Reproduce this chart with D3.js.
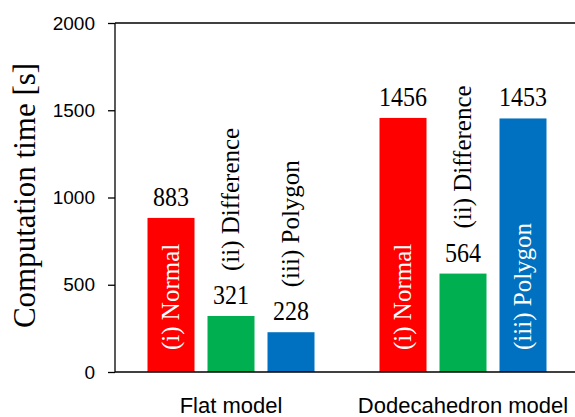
<!DOCTYPE html>
<html><head><meta charset="utf-8">
<script src="https://cdn.jsdelivr.net/npm/d3@7"></script>
<style>html,body{margin:0;padding:0;background:#fff;}svg{display:block;}</style>
</head><body>
<svg id="chart" width="575" height="417"></svg>
<script>
const groups = ["Flat model", "Dodecahedron model"];
const series = ["(i) Normal", "(ii) Difference", "(iii) Polygon"];
const normalValues = [883, 1456];
const differenceValues = [321, 564];
const polygonValues = [228, 1453];
const seriesColors = ["#FF0000", "#00B050", "#0070C0"];
const yTicks = [0, 500, 1000, 1500, 2000];
const yTitle = "Computation time [s]";

const valuesBySeries = [normalValues, differenceValues, polygonValues];
const data = [];
groups.forEach((g, gi) => series.forEach((s, si) => data.push({group: g, series: s, si, value: valuesBySeries[si][gi]})));

const svg = d3.select("#chart");
const mLeft = 115, mRight = 579, mTop = 23, mBottom = 372;

const x0 = d3.scaleBand().domain(groups).range([mLeft, mRight]).paddingInner(0).paddingOuter(0);
const bw = x0.bandwidth();
const groupWidth = 167;
const x1 = d3.scaleBand().domain(series).range([(bw - groupWidth) / 2, (bw + groupWidth) / 2]).paddingInner(13 / 60).paddingOuter(0);
const y = d3.scaleLinear().domain([0, 2000]).range([mBottom, mTop]);

// top border
svg.append("line").attr("x1", mLeft).attr("x2", 575).attr("y1", y(2000)).attr("y2", y(2000))
  .attr("stroke", "#000").attr("stroke-width", 1.3);

// bars
svg.append("g").selectAll("rect").data(data).join("rect")
  .attr("x", d => x0(d.group) + x1(d.series))
  .attr("width", x1.bandwidth())
  .attr("y", d => y(d.value))
  .attr("height", d => y(0) - y(d.value))
  .attr("fill", d => seriesColors[d.si]);

// y axis
const yAxis = d3.axisLeft(y).tickValues(yTicks).tickSize(7).tickPadding(13).tickFormat(d3.format("d"));
const ga = svg.append("g").attr("transform", `translate(${mLeft},0)`).call(yAxis);
ga.select(".domain").attr("stroke", "#000").attr("stroke-width", 1.3).attr("d", `M0,${mTop}V${mBottom}`);
ga.selectAll(".tick line").attr("stroke", "#000").attr("stroke-width", 1.3);
ga.selectAll(".tick text").attr("font-family", "Liberation Sans, Arial, sans-serif").attr("font-size", 19).attr("fill", "#000");

// baseline
svg.append("line").attr("x1", mLeft).attr("x2", 575).attr("y1", y(0)).attr("y2", y(0))
  .attr("stroke", "#000").attr("stroke-width", 1.3);

// x category labels
svg.append("g").selectAll("text").data(groups).join("text")
  .attr("x", d => x0(d) + bw / 2).attr("y", 413)
  .attr("text-anchor", "middle")
  .attr("font-family", "Liberation Sans, Arial, sans-serif").attr("font-size", 22).attr("fill", "#000")
  .text(d => d);

// y title
svg.append("text")
  .attr("transform", `translate(25,${(mTop + mBottom) / 2 - 2}) rotate(-90)`)
  .attr("dy", "0.33em")
  .attr("text-anchor", "middle")
  .attr("font-family", "Liberation Serif, Times New Roman, serif").attr("font-size", 31).attr("fill", "#000")
  .text(yTitle);

// value labels
svg.append("g").selectAll("text").data(data).join("text")
  .attr("transform", d => `translate(${x0(d.group) + x1(d.series) + x1.bandwidth() / 2},${y(d.value) - 12}) scale(1,1.1)`)
  .attr("text-anchor", "middle")
  .attr("font-family", "Liberation Serif, Times New Roman, serif").attr("font-size", 24).attr("fill", "#000")
  .text(d => d.value);

// series name labels (rotated)
const lab = svg.append("g").selectAll("text").data(data).join("text")
  .attr("font-family", "Liberation Serif, Times New Roman, serif").attr("font-size", 25)
  .attr("text-anchor", "start").attr("dy", "0.33em")
  .text(d => d.series);
lab.each(function(d) {
  const len = this.getComputedTextLength();
  const h = y(0) - y(d.value);
  const cx = x0(d.group) + x1(d.series) + x1.bandwidth() / 2;
  const inside = h > len + 40;
  const sy = inside ? y(0) - 22 : y(d.value) - 45;
  d3.select(this).attr("transform", `translate(${cx},${sy}) rotate(-90)`)
    .attr("fill", inside ? "#fff" : "#000");
});
</script>
</body></html>
